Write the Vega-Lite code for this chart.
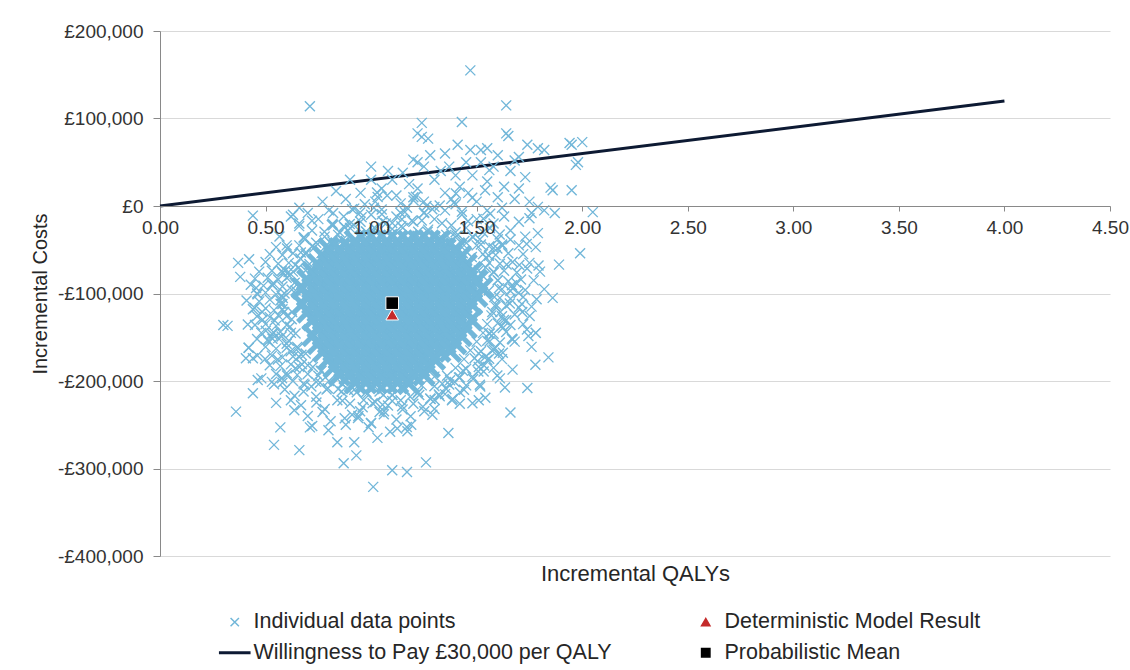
{
"$schema": "https://vega.github.io/schema/vega-lite/v6.json",
"width": 950,
"height": 525,
"autosize": "none",
"padding": {"left": 160, "top": 31, "right": 20, "bottom": 114},
"background": "white",
"config": {"font": "Liberation Sans", "view": {"stroke": null},
 "legend": {"orient": "none", "legendX": 64, "legendY": 580, "columns": 2, "columnPadding": 83, "rowPadding": 8, "labelFontSize": 21.5, "labelColor": "#262626", "labelLimit": 700, "symbolSize": 70, "labelOffset": 8}},
"datasets": {
"wtp": [{"q": 0, "c": 0}, {"q": 4, "c": 120000}],
"markers": [
{"q": 1.10, "c": -124000, "s": "Deterministic Model Result"},
{"q": 1.10, "c": -111000, "s": "Probabilistic Mean"}
],
"core": [
{"q":0.925,"c":-40000},{"q":0.975,"c":-40000},{"q":1.025,"c":-40000},{"q":1.075,"c":-40000},{"q":1.125,"c":-40000},{"q":1.175,"c":-40000},{"q":1.225,"c":-40000},{"q":1.275,"c":-40000},{"q":1.325,"c":-40000},
{"q":0.80,"c":-49000},{"q":0.85,"c":-49000},{"q":0.90,"c":-49000},{"q":0.95,"c":-49000},{"q":1.00,"c":-49000},{"q":1.05,"c":-49000},{"q":1.10,"c":-49000},{"q":1.15,"c":-49000},{"q":1.20,"c":-49000},{"q":1.25,"c":-49000},{"q":1.30,"c":-49000},{"q":1.35,"c":-49000},{"q":1.40,"c":-49000},
{"q":0.775,"c":-58000},{"q":0.825,"c":-58000},{"q":0.875,"c":-58000},{"q":0.925,"c":-58000},{"q":0.975,"c":-58000},{"q":1.025,"c":-58000},{"q":1.075,"c":-58000},{"q":1.125,"c":-58000},{"q":1.175,"c":-58000},{"q":1.225,"c":-58000},{"q":1.275,"c":-58000},{"q":1.325,"c":-58000},{"q":1.375,"c":-58000},{"q":1.425,"c":-58000},
{"q":0.75,"c":-67000},{"q":0.80,"c":-67000},{"q":0.85,"c":-67000},{"q":0.90,"c":-67000},{"q":0.95,"c":-67000},{"q":1.00,"c":-67000},{"q":1.05,"c":-67000},{"q":1.10,"c":-67000},{"q":1.15,"c":-67000},{"q":1.20,"c":-67000},{"q":1.25,"c":-67000},{"q":1.30,"c":-67000},{"q":1.35,"c":-67000},{"q":1.40,"c":-67000},{"q":1.45,"c":-67000},
{"q":0.725,"c":-76000},{"q":0.775,"c":-76000},{"q":0.825,"c":-76000},{"q":0.875,"c":-76000},{"q":0.925,"c":-76000},{"q":0.975,"c":-76000},{"q":1.025,"c":-76000},{"q":1.075,"c":-76000},{"q":1.125,"c":-76000},{"q":1.175,"c":-76000},{"q":1.225,"c":-76000},{"q":1.275,"c":-76000},{"q":1.325,"c":-76000},{"q":1.375,"c":-76000},{"q":1.425,"c":-76000},{"q":1.475,"c":-76000},
{"q":0.70,"c":-85000},{"q":0.75,"c":-85000},{"q":0.80,"c":-85000},{"q":0.85,"c":-85000},{"q":0.90,"c":-85000},{"q":0.95,"c":-85000},{"q":1.00,"c":-85000},{"q":1.05,"c":-85000},{"q":1.10,"c":-85000},{"q":1.15,"c":-85000},{"q":1.20,"c":-85000},{"q":1.25,"c":-85000},{"q":1.30,"c":-85000},{"q":1.35,"c":-85000},{"q":1.40,"c":-85000},{"q":1.45,"c":-85000},{"q":1.50,"c":-85000},
{"q":0.675,"c":-94000},{"q":0.725,"c":-94000},{"q":0.775,"c":-94000},{"q":0.825,"c":-94000},{"q":0.875,"c":-94000},{"q":0.925,"c":-94000},{"q":0.975,"c":-94000},{"q":1.025,"c":-94000},{"q":1.075,"c":-94000},{"q":1.125,"c":-94000},{"q":1.175,"c":-94000},{"q":1.225,"c":-94000},{"q":1.275,"c":-94000},{"q":1.325,"c":-94000},{"q":1.375,"c":-94000},{"q":1.425,"c":-94000},{"q":1.475,"c":-94000},{"q":1.525,"c":-94000},
{"q":0.70,"c":-103000},{"q":0.75,"c":-103000},{"q":0.80,"c":-103000},{"q":0.85,"c":-103000},{"q":0.90,"c":-103000},{"q":0.95,"c":-103000},{"q":1.00,"c":-103000},{"q":1.05,"c":-103000},{"q":1.10,"c":-103000},{"q":1.15,"c":-103000},{"q":1.20,"c":-103000},{"q":1.25,"c":-103000},{"q":1.30,"c":-103000},{"q":1.35,"c":-103000},{"q":1.40,"c":-103000},{"q":1.45,"c":-103000},{"q":1.50,"c":-103000},
{"q":0.675,"c":-112000},{"q":0.725,"c":-112000},{"q":0.775,"c":-112000},{"q":0.825,"c":-112000},{"q":0.875,"c":-112000},{"q":0.925,"c":-112000},{"q":0.975,"c":-112000},{"q":1.025,"c":-112000},{"q":1.075,"c":-112000},{"q":1.125,"c":-112000},{"q":1.175,"c":-112000},{"q":1.225,"c":-112000},{"q":1.275,"c":-112000},{"q":1.325,"c":-112000},{"q":1.375,"c":-112000},{"q":1.425,"c":-112000},{"q":1.475,"c":-112000},
{"q":0.70,"c":-121000},{"q":0.75,"c":-121000},{"q":0.80,"c":-121000},{"q":0.85,"c":-121000},{"q":0.90,"c":-121000},{"q":0.95,"c":-121000},{"q":1.00,"c":-121000},{"q":1.05,"c":-121000},{"q":1.10,"c":-121000},{"q":1.15,"c":-121000},{"q":1.20,"c":-121000},{"q":1.25,"c":-121000},{"q":1.30,"c":-121000},{"q":1.35,"c":-121000},{"q":1.40,"c":-121000},{"q":1.45,"c":-121000},
{"q":0.725,"c":-130000},{"q":0.775,"c":-130000},{"q":0.825,"c":-130000},{"q":0.875,"c":-130000},{"q":0.925,"c":-130000},{"q":0.975,"c":-130000},{"q":1.025,"c":-130000},{"q":1.075,"c":-130000},{"q":1.125,"c":-130000},{"q":1.175,"c":-130000},{"q":1.225,"c":-130000},{"q":1.275,"c":-130000},{"q":1.325,"c":-130000},{"q":1.375,"c":-130000},{"q":1.425,"c":-130000},{"q":1.475,"c":-130000},
{"q":0.75,"c":-139000},{"q":0.80,"c":-139000},{"q":0.85,"c":-139000},{"q":0.90,"c":-139000},{"q":0.95,"c":-139000},{"q":1.00,"c":-139000},{"q":1.05,"c":-139000},{"q":1.10,"c":-139000},{"q":1.15,"c":-139000},{"q":1.20,"c":-139000},{"q":1.25,"c":-139000},{"q":1.30,"c":-139000},{"q":1.35,"c":-139000},{"q":1.40,"c":-139000},{"q":1.45,"c":-139000},
{"q":0.725,"c":-148000},{"q":0.775,"c":-148000},{"q":0.825,"c":-148000},{"q":0.875,"c":-148000},{"q":0.925,"c":-148000},{"q":0.975,"c":-148000},{"q":1.025,"c":-148000},{"q":1.075,"c":-148000},{"q":1.125,"c":-148000},{"q":1.175,"c":-148000},{"q":1.225,"c":-148000},{"q":1.275,"c":-148000},{"q":1.325,"c":-148000},{"q":1.375,"c":-148000},{"q":1.425,"c":-148000},
{"q":0.75,"c":-157000},{"q":0.80,"c":-157000},{"q":0.85,"c":-157000},{"q":0.90,"c":-157000},{"q":0.95,"c":-157000},{"q":1.00,"c":-157000},{"q":1.05,"c":-157000},{"q":1.10,"c":-157000},{"q":1.15,"c":-157000},{"q":1.20,"c":-157000},{"q":1.25,"c":-157000},{"q":1.30,"c":-157000},{"q":1.35,"c":-157000},{"q":1.40,"c":-157000},
{"q":0.775,"c":-166000},{"q":0.825,"c":-166000},{"q":0.875,"c":-166000},{"q":0.925,"c":-166000},{"q":0.975,"c":-166000},{"q":1.025,"c":-166000},{"q":1.075,"c":-166000},{"q":1.125,"c":-166000},{"q":1.175,"c":-166000},{"q":1.225,"c":-166000},{"q":1.275,"c":-166000},{"q":1.325,"c":-166000},{"q":1.375,"c":-166000},
{"q":0.80,"c":-175000},{"q":0.85,"c":-175000},{"q":0.90,"c":-175000},{"q":0.95,"c":-175000},{"q":1.00,"c":-175000},{"q":1.05,"c":-175000},{"q":1.10,"c":-175000},{"q":1.15,"c":-175000},{"q":1.20,"c":-175000},{"q":1.25,"c":-175000},{"q":1.30,"c":-175000},
{"q":0.825,"c":-184000},{"q":0.875,"c":-184000},{"q":0.925,"c":-184000},{"q":0.975,"c":-184000},{"q":1.025,"c":-184000},{"q":1.075,"c":-184000},{"q":1.125,"c":-184000},{"q":1.175,"c":-184000},{"q":1.225,"c":-184000},{"q":1.275,"c":-184000},
{"q":0.85,"c":-193000},{"q":0.90,"c":-193000},{"q":0.95,"c":-193000},{"q":1.00,"c":-193000},{"q":1.05,"c":-193000},{"q":1.10,"c":-193000},{"q":1.15,"c":-193000},{"q":1.20,"c":-193000},{"q":1.25,"c":-193000},
{"q":0.925,"c":-202000},{"q":0.975,"c":-202000},{"q":1.025,"c":-202000},{"q":1.075,"c":-202000},{"q":1.125,"c":-202000},{"q":1.175,"c":-202000}
],
"fringe": [
{"q":1.591,"c":-112550},{"q":1.605,"c":-94100},{"q":1.533,"c":-80800},{"q":1.544,"c":-59000},{"q":1.449,"c":-51600},{"q":1.400,"c":-35800},{"q":1.302,"c":-34700},{"q":1.240,"c":-16600},{"q":1.143,"c":-23200},{"q":1.055,"c":-17300},{"q":0.976,"c":-29000},{"q":0.871,"c":-23100},{"q":0.817,"c":-40600},{"q":0.731,"c":-47400},{"q":0.708,"c":-66400},{"q":0.609,"c":-75400},{"q":0.624,"c":-95600},{"q":0.580,"c":-112000},{"q":0.624,"c":-129400},{"q":0.576,"c":-149100},{"q":0.653,"c":-162700},{"q":0.672,"c":-180900},{"q":0.762,"c":-188500},{"q":0.789,"c":-209700},{"q":0.891,"c":-210200},{"q":0.965,"c":-221800},{"q":1.058,"c":-216100},{"q":1.147,"c":-228800},{"q":1.228,"c":-216100},{"q":1.321,"c":-215500},{"q":1.374,"c":-199200},{"q":1.483,"c":-197600},{"q":1.504,"c":-177500},{"q":1.573,"c":-165200},{"q":1.562,"c":-145800},{"q":1.640,"c":-130500},
{"q":1.687,"c":-87600},{"q":1.642,"c":-66900},{"q":1.660,"c":-38400},{"q":1.563,"c":-25400},{"q":1.459,"c":-17500},{"q":1.392,"c":3700},{"q":1.262,"c":100},{"q":1.139,"c":-7600},{"q":1.013,"c":-1900},{"q":0.899,"c":-20500},{"q":0.804,"c":-41100},{"q":0.667,"c":-53100},{"q":0.613,"c":-79700},{"q":0.582,"c":-105100},{"q":0.486,"c":-130100},{"q":0.513,"c":-154600},{"q":0.558,"c":-175300},{"q":0.540,"c":-203800},{"q":0.637,"c":-216800},{"q":0.741,"c":-224700},{"q":0.808,"c":-245900},{"q":0.938,"c":-242300},{"q":1.061,"c":-234600},{"q":1.187,"c":-240300},{"q":1.301,"c":-221700},{"q":1.396,"c":-201100},{"q":1.533,"c":-189200},{"q":1.587,"c":-162500},{"q":1.618,"c":-137100},{"q":1.714,"c":-112100},
{"q":1.739,"c":-71400},{"q":1.737,"c":-43300},{"q":1.609,"c":-32600},{"q":1.564,"c":-8900},{"q":1.479,"c":9300},{"q":1.325,"c":500},{"q":1.212,"c":10600},{"q":1.076,"c":12000},{"q":0.955,"c":-12900},{"q":0.817,"c":-20200},{"q":0.683,"c":-36000},{"q":0.641,"c":-67500},{"q":0.530,"c":-89600},{"q":0.449,"c":-116600},{"q":0.501,"c":-142700},{"q":0.461,"c":-170800},{"q":0.463,"c":-198900},{"q":0.591,"c":-209700},{"q":0.636,"c":-233300},{"q":0.721,"c":-251500},{"q":0.875,"c":-242700},{"q":0.988,"c":-252800},{"q":1.124,"c":-254200},{"q":1.245,"c":-229300},{"q":1.383,"c":-222000},{"q":1.517,"c":-206200},{"q":1.559,"c":-174700},{"q":1.670,"c":-152600},{"q":1.751,"c":-125600},{"q":1.699,"c":-99500},
{"q":1.574,"c":-121100},{"q":1.558,"c":-96500},{"q":1.510,"c":-73700},{"q":1.435,"c":-54000},{"q":1.337,"c":-39000},{"q":1.223,"c":-29500},{"q":1.10,"c":-26200},{"q":0.977,"c":-29500},{"q":0.863,"c":-39000},{"q":0.765,"c":-54000},{"q":0.690,"c":-73700},{"q":0.642,"c":-96500},{"q":0.626,"c":-121100},{"q":0.642,"c":-145700},{"q":0.690,"c":-168500},{"q":0.765,"c":-188200},{"q":0.863,"c":-203200},{"q":0.977,"c":-212700},{"q":1.10,"c":-216000},{"q":1.223,"c":-212700},{"q":1.337,"c":-203200},{"q":1.435,"c":-188200},{"q":1.510,"c":-168500},{"q":1.558,"c":-145700},
{"q":1.612,"c":-121100},{"q":1.584,"c":-104100},{"q":1.600,"c":-84900},{"q":1.543,"c":-70250},{"q":1.477,"c":-58300},{"q":1.442,"c":-40100},{"q":1.356,"c":-33000},{"q":1.268,"c":-29300},{"q":1.193,"c":-16900},{"q":1.10,"c":-19400},{"q":1.015,"c":-24900},{"q":0.918,"c":-21700},{"q":0.844,"c":-33000},{"q":0.784,"c":-46300},{"q":0.692,"c":-53100},{"q":0.657,"c":-70250},{"q":0.638,"c":-87700},{"q":0.576,"c":-102700},{"q":0.588,"c":-121100},{"q":0.616,"c":-138100},{"q":0.600,"c":-157300},{"q":0.657,"c":-171950},{"q":0.724,"c":-183900},{"q":0.758,"c":-202100},{"q":0.844,"c":-209200},{"q":0.932,"c":-212900},{"q":1.007,"c":-225300},{"q":1.10,"c":-222800},{"q":1.185,"c":-218000},{"q":1.282,"c":-220500},{"q":1.356,"c":-209200},{"q":1.416,"c":-195900},{"q":1.508,"c":-189100},{"q":1.543,"c":-171950},{"q":1.562,"c":-154500},{"q":1.624,"c":-139500},
{"q":1.657,"c":-111400},{"q":1.667,"c":-90600},{"q":1.581,"c":-76100},{"q":1.558,"c":-56800},{"q":1.515,"c":-38000},{"q":1.405,"c":-34000},{"q":1.336,"c":-19600},{"q":1.252,"c":-7500},{"q":1.146,"c":-15100},{"q":1.051,"c":-9550},{"q":0.948,"c":-7500},{"q":0.875,"c":-24700},{"q":0.779,"c":-29400},{"q":0.685,"c":-38000},{"q":0.665,"c":-60000},{"q":0.594,"c":-73700},{"q":0.533,"c":-90600},{"q":0.571,"c":-111800},{"q":0.543,"c":-130800},{"q":0.533,"c":-151600},{"q":0.619,"c":-166100},{"q":0.642,"c":-185400},{"q":0.685,"c":-204200},{"q":0.795,"c":-208200},{"q":0.864,"c":-222600},{"q":0.948,"c":-234700},{"q":1.054,"c":-227100},{"q":1.149,"c":-232700},{"q":1.252,"c":-234700},{"q":1.325,"c":-217500},{"q":1.421,"c":-212800},{"q":1.515,"c":-204200},{"q":1.535,"c":-182200},{"q":1.606,"c":-168500},{"q":1.667,"c":-151600},{"q":1.629,"c":-130400},
{"q":1.716,"c":-121100},{"q":1.660,"c":-97200},{"q":1.702,"c":-67400},{"q":1.598,"c":-48500},{"q":1.483,"c":-35800},{"q":1.430,"c":-6700},{"q":1.290,"c":-3700},{"q":1.160,"c":-6900},{"q":1.031,"c":10300},{"q":0.910,"c":-3700},{"q":0.814,"c":-21700},{"q":0.659,"c":-23000},{"q":0.602,"c":-48500},{"q":0.576,"c":-74400},{"q":0.455,"c":-93600},{"q":0.484,"c":-121100},{"q":0.540,"c":-145000},{"q":0.498,"c":-174800},{"q":0.602,"c":-193700},{"q":0.717,"c":-206400},{"q":0.770,"c":-235400},{"q":0.910,"c":-238500},{"q":1.040,"c":-235300},{"q":1.169,"c":-252500},{"q":1.290,"c":-238500},{"q":1.386,"c":-220500},{"q":1.541,"c":-219200},{"q":1.598,"c":-193700},{"q":1.624,"c":-167800},{"q":1.745,"c":-148600},
{"q":1.784,"c":-106700},{"q":1.793,"c":-68100},{"q":1.622,"c":-45300},{"q":1.532,"c":-14600},{"q":1.402,"c":14200},{"q":1.201,"c":6200},{"q":1.028,"c":15300},{"q":0.834,"c":17200},{"q":0.720,"c":-16800},{"q":0.566,"c":-34900},{"q":0.422,"c":-60800},{"q":0.462,"c":-101000},{"q":0.416,"c":-135500},{"q":0.407,"c":-174100},{"q":0.578,"c":-196900},{"q":0.668,"c":-227600},{"q":0.798,"c":-256400},{"q":0.999,"c":-248400},{"q":1.172,"c":-257500},{"q":1.366,"c":-259400},{"q":1.480,"c":-225400},{"q":1.634,"c":-207300},{"q":1.778,"c":-181300},{"q":1.738,"c":-141200},
{"q":0.71,"c":114000},{"q":1.47,"c":155000},{"q":1.64,"c":115000},{"q":1.24,"c":95000},{"q":1.43,"c":96000},{"q":1.64,"c":83000},{"q":1.65,"c":80000},{"q":1.24,"c":79000},{"q":1.27,"c":77000},{"q":1.41,"c":70000},{"q":1.55,"c":66000},{"q":1.52,"c":64000},{"q":1.47,"c":64000},{"q":1.74,"c":70000},{"q":1.82,"c":64000},{"q":1.95,"c":70000},{"q":2.00,"c":73000},{"q":1.94,"c":72000},{"q":1.79,"c":66000},{"q":1.97,"c":47000},{"q":1.98,"c":50000},{"q":1.86,"c":18000},{"q":1.95,"c":18000},{"q":1.85,"c":21000},{"q":2.05,"c":-7000},{"q":1.99,"c":-54000},{"q":1.89,"c":-67000},{"q":1.79,"c":-31000},{"q":1.75,"c":-14000},{"q":1.82,"c":-5000},{"q":1.87,"c":-8000},{"q":1.79,"c":-1000},{"q":1.73,"c":33000},{"q":1.70,"c":56000},{"q":1.63,"c":22000},{"q":1.56,"c":41000},{"q":1.22,"c":50000},{"q":1.25,"c":45000},{"q":1.37,"c":45000},{"q":1.20,"c":53000},{"q":1.22,"c":83000},{"q":1.00,"c":45000},{"q":0.90,"c":30000},{"q":1.00,"c":30000},{"q":0.77,"c":5000},{"q":0.44,"c":-11000},{"q":0.63,"c":-10000},{"q":0.66,"c":-2000},{"q":0.82,"c":-8000},
{"q":1.05,"c":20000},{"q":1.12,"c":12000},{"q":1.18,"c":25000},{"q":1.30,"c":30000},{"q":1.35,"c":15000},{"q":1.42,"c":22000},{"q":1.48,"c":35000},{"q":1.55,"c":28000},{"q":1.60,"c":10000},{"q":1.66,"c":40000},{"q":1.70,"c":20000},{"q":1.58,"c":45000},{"q":1.45,"c":50000},{"q":1.33,"c":40000},{"q":1.15,"c":38000},{"q":0.95,"c":15000},{"q":0.88,"c":8000},{"q":1.02,"c":5000},{"q":1.25,"c":5000},{"q":1.50,"c":5000},{"q":1.40,"c":2000},{"q":1.62,"c":-2000},{"q":1.75,"c":5000},{"q":1.68,"c":52000},{"q":1.60,"c":58000},{"q":1.35,"c":60000},{"q":1.28,"c":58000},{"q":1.52,"c":50000},{"q":1.10,"c":30000},{"q":1.22,"c":20000},{"q":1.38,"c":8000},{"q":1.46,"c":15000},{"q":1.14,"c":3000},{"q":0.97,"c":2000},{"q":1.30,"c":-1000},{"q":1.54,"c":18000},{"q":1.68,"c":8000},{"q":1.20,"c":10000},{"q":1.08,"c":40000},{"q":1.40,"c":35000},
{"q":0.62,"c":-12000},{"q":0.66,"c":-20000},{"q":0.70,"c":-8000},{"q":0.72,"c":-28000},{"q":0.75,"c":-15000},{"q":0.78,"c":-35000},{"q":0.80,"c":-5000},{"q":0.82,"c":-22000},{"q":0.85,"c":-30000},{"q":0.87,"c":-12000},{"q":0.90,"c":-25000},{"q":0.92,"c":-3000},{"q":0.95,"c":-18000},{"q":0.97,"c":-33000},{"q":1.00,"c":-10000},{"q":1.02,"c":-26000},{"q":1.05,"c":-4000},{"q":1.07,"c":-20000},{"q":1.10,"c":-32000},{"q":1.12,"c":-12000},{"q":1.15,"c":-25000},{"q":1.17,"c":-2000},{"q":1.20,"c":-18000},{"q":1.22,"c":-34000},{"q":1.25,"c":-8000},{"q":1.27,"c":-27000},{"q":1.30,"c":-15000},{"q":1.33,"c":-35000},{"q":1.35,"c":-5000},{"q":1.38,"c":-22000},{"q":1.40,"c":-30000},{"q":1.43,"c":-10000},{"q":1.45,"c":-25000},{"q":1.48,"c":-35000},{"q":1.50,"c":-15000},{"q":1.53,"c":-30000},{"q":1.55,"c":-5000},{"q":1.58,"c":-20000},{"q":1.60,"c":-38000},{"q":1.63,"c":-12000},{"q":1.66,"c":-28000},{"q":1.70,"c":-18000},{"q":1.73,"c":-35000},{"q":1.76,"c":-8000},{"q":0.68,"c":-36000},{"q":0.74,"c":-42000},{"q":0.88,"c":-40000},{"q":1.36,"c":-42000},{"q":1.44,"c":-45000},{"q":1.52,"c":-44000},{"q":1.58,"c":-48000},
{"q":0.60,"c":-45000},{"q":0.66,"c":-45000},{"q":0.72,"c":-46000},{"q":0.55,"c":-47000},
{"q":0.52,"c":-55000},{"q":0.58,"c":-56000},{"q":0.63,"c":-54000},{"q":0.69,"c":-55000},
{"q":0.37,"c":-65000},{"q":0.50,"c":-64000},{"q":0.56,"c":-66000},{"q":0.61,"c":-65000},
{"q":0.47,"c":-75000},{"q":0.53,"c":-74000},{"q":0.58,"c":-76000},{"q":0.63,"c":-75000},
{"q":0.38,"c":-81000},{"q":0.45,"c":-83000},{"q":0.51,"c":-82000},{"q":0.56,"c":-84000},{"q":0.60,"c":-82000},
{"q":0.43,"c":-90000},{"q":0.49,"c":-91000},{"q":0.54,"c":-89000},{"q":0.58,"c":-92000},
{"q":0.46,"c":-100000},{"q":0.50,"c":-99000},{"q":0.55,"c":-101000},{"q":0.59,"c":-100000},
{"q":0.41,"c":-108000},{"q":0.47,"c":-109000},{"q":0.52,"c":-107000},{"q":0.57,"c":-108000},
{"q":0.44,"c":-118000},{"q":0.50,"c":-117000},{"q":0.54,"c":-119000},{"q":0.58,"c":-118000},
{"q":0.46,"c":-126000},{"q":0.52,"c":-127000},{"q":0.56,"c":-125000},{"q":0.60,"c":-126000},
{"q":0.30,"c":-136000},{"q":0.32,"c":-137000},{"q":0.45,"c":-136000},{"q":0.50,"c":-135000},{"q":0.55,"c":-137000},{"q":0.60,"c":-136000},
{"q":0.48,"c":-145000},{"q":0.53,"c":-146000},{"q":0.57,"c":-144000},{"q":0.62,"c":-145000},
{"q":0.46,"c":-152000},{"q":0.51,"c":-153000},{"q":0.56,"c":-151000},{"q":0.61,"c":-154000},
{"q":0.42,"c":-162000},{"q":0.50,"c":-161000},{"q":0.55,"c":-163000},{"q":0.60,"c":-162000},{"q":0.65,"c":-161000},
{"q":0.44,"c":-174000},{"q":0.53,"c":-171000},{"q":0.58,"c":-173000},{"q":0.63,"c":-172000},{"q":0.67,"c":-170000},
{"q":0.52,"c":-182000},{"q":0.57,"c":-183000},{"q":0.62,"c":-181000},{"q":0.66,"c":-184000},{"q":0.70,"c":-182000},
{"q":0.48,"c":-197000},{"q":0.55,"c":-192000},{"q":0.60,"c":-191000},{"q":0.65,"c":-193000},{"q":0.70,"c":-192000},{"q":0.75,"c":-194000},
{"q":0.53,"c":-201000},{"q":0.58,"c":-202000},{"q":0.63,"c":-200000},{"q":0.68,"c":-203000},{"q":0.74,"c":-201000},{"q":0.80,"c":-200000},
{"q":1.50,"c":-45000},{"q":1.56,"c":-46000},{"q":1.62,"c":-44000},{"q":1.70,"c":-45000},{"q":1.78,"c":-47000},
{"q":1.53,"c":-55000},{"q":1.59,"c":-56000},{"q":1.65,"c":-54000},{"q":1.72,"c":-55000},
{"q":1.56,"c":-65000},{"q":1.61,"c":-66000},{"q":1.67,"c":-64000},{"q":1.75,"c":-65000},
{"q":1.58,"c":-75000},{"q":1.63,"c":-74000},{"q":1.69,"c":-76000},{"q":1.80,"c":-75000},
{"q":1.60,"c":-85000},{"q":1.65,"c":-86000},{"q":1.71,"c":-84000},{"q":1.77,"c":-85000},
{"q":1.62,"c":-95000},{"q":1.67,"c":-94000},{"q":1.73,"c":-96000},{"q":1.82,"c":-95000},
{"q":1.61,"c":-105000},{"q":1.66,"c":-106000},{"q":1.72,"c":-104000},{"q":1.86,"c":-105000},
{"q":1.59,"c":-115000},{"q":1.64,"c":-114000},{"q":1.70,"c":-116000},{"q":1.76,"c":-115000},
{"q":1.57,"c":-125000},{"q":1.62,"c":-126000},{"q":1.68,"c":-124000},
{"q":1.55,"c":-135000},{"q":1.60,"c":-134000},{"q":1.66,"c":-136000},{"q":1.72,"c":-135000},
{"q":1.53,"c":-145000},{"q":1.58,"c":-146000},{"q":1.64,"c":-144000},{"q":1.78,"c":-145000},
{"q":1.50,"c":-155000},{"q":1.55,"c":-154000},{"q":1.61,"c":-156000},{"q":1.68,"c":-155000},
{"q":1.47,"c":-165000},{"q":1.52,"c":-166000},{"q":1.58,"c":-164000},{"q":1.76,"c":-161000},
{"q":1.44,"c":-175000},{"q":1.49,"c":-174000},{"q":1.55,"c":-176000},{"q":1.62,"c":-175000},{"q":1.84,"c":-173000},
{"q":1.40,"c":-185000},{"q":1.45,"c":-186000},{"q":1.51,"c":-184000},{"q":1.58,"c":-185000},{"q":1.67,"c":-187000},
{"q":1.30,"c":-195000},{"q":1.36,"c":-194000},{"q":1.42,"c":-196000},{"q":1.48,"c":-195000},{"q":1.61,"c":-197000},
{"q":1.24,"c":-205000},{"q":1.30,"c":-206000},{"q":1.37,"c":-204000},{"q":1.45,"c":-205000},{"q":1.74,"c":-208000},
{"q":0.86,"c":-212000},{"q":0.92,"c":-210000},{"q":0.98,"c":-215000},{"q":1.04,"c":-212000},{"q":1.10,"c":-216000},{"q":1.16,"c":-210000},{"q":1.22,"c":-214000},{"q":0.84,"c":-222000},{"q":0.90,"c":-226000},{"q":0.96,"c":-230000},{"q":1.02,"c":-224000},{"q":1.08,"c":-228000},{"q":1.14,"c":-222000},{"q":1.20,"c":-226000},{"q":1.28,"c":-220000},{"q":1.35,"c":-215000},{"q":0.74,"c":-218000},{"q":0.68,"c":-212000},{"q":0.78,"c":-232000},{"q":0.94,"c":-240000},{"q":1.06,"c":-238000},{"q":1.12,"c":-244000},{"q":1.00,"c":-248000},{"q":1.19,"c":-250000},{"q":1.09,"c":-258000},{"q":1.03,"c":-265000},{"q":1.51,"c":-222000},{"q":1.42,"c":-226000},{"q":1.30,"c":-232000},{"q":0.62,"c":-222000},{"q":0.70,"c":-240000},{"q":0.88,"c":-250000},
{"q":0.42,"c":-162000},{"q":0.36,"c":-235000},{"q":0.57,"c":-253000},{"q":0.54,"c":-273000},{"q":0.66,"c":-279000},{"q":0.71,"c":-253000},{"q":0.84,"c":-270000},{"q":0.87,"c":-294000},{"q":0.93,"c":-285000},{"q":0.92,"c":-270000},{"q":1.01,"c":-321000},{"q":1.10,"c":-302000},{"q":1.17,"c":-304000},{"q":1.26,"c":-293000},{"q":1.66,"c":-236000},{"q":1.78,"c":-145000},{"q":1.44,"c":-210000},{"q":0.55,"c":-225000},{"q":0.44,"c":-214000}
]
},
"encoding": {
"x": {"field": "q", "type": "quantitative",
 "scale": {"domain": [0, 4.5], "nice": false, "zero": false},
 "axis": {"values": [0, 0.5, 1, 1.5, 2, 2.5, 3, 3.5, 4, 4.5], "format": ".2f", "offset": -350, "grid": false, "zindex": 1,
  "tickSize": 5, "labelPadding": 7, "labelFontSize": 19, "labelColor": "#333333", "labelFlush": false, "labelOverlap": false,
  "domainColor": "#898989", "tickColor": "#898989",
  "title": "Incremental QALYs", "titleFontSize": 22, "titleFontWeight": "normal", "titleColor": "#262626", "titleY": 367, "titleBaseline": "middle"}},
"y": {"field": "c", "type": "quantitative",
 "scale": {"domain": [-400000, 200000], "nice": false},
 "axis": {"values": [-400000, -300000, -200000, -100000, 0, 100000, 200000],
  "labelExpr": "datum.value < 0 ? '-£' + format(-datum.value, ',') : '£' + format(datum.value, ',')",
  "grid": true, "gridColor": "#d9d9d9", "tickSize": 7, "labelPadding": 10, "labelFontSize": 19, "labelColor": "#333333",
  "domainColor": "#898989", "tickColor": "#898989",
  "title": "Incremental Costs", "titleFontSize": 20, "titleFontWeight": "normal", "titleColor": "#262626", "titlePadding": 7}}
},
"layer": [
{"data": {"name": "wtp"}, "mark": {"type": "line", "color": "#0d1a33", "strokeWidth": 3}, "encoding": {}},
{"data": {"name": "core"}, "mark": {"type": "point", "filled": false, "size": 400, "strokeWidth": 5, "opacity": 1},
 "encoding": {
  "color": {"datum": "Individual data points", "type": "nominal",
   "scale": {"domain": ["Individual data points", "Willingness to Pay £30,000 per QALY", "Deterministic Model Result", "Probabilistic Mean"], "range": ["#72b7d9", "#0d1a33", "#c42a2a", "#000000"]},
   "legend": {"title": null, "encode": {"symbols": {"update": {"fill": {"scale": "color", "field": "value"}, "stroke": {"scale": "color", "field": "value"}, "strokeWidth": {"value": 1.5}, "opacity": {"value": 1}}}}}},
  "shape": {"datum": "Individual data points", "type": "nominal",
   "scale": {"domain": ["Individual data points", "Willingness to Pay £30,000 per QALY", "Deterministic Model Result", "Probabilistic Mean"], "range": ["M-1,-1L1,1M-1,1L1,-1", "M-3.6,-0.18L3.6,-0.18L3.6,0.18L-3.6,0.18Z", "triangle-up", "square"]},
   "legend": {"title": null, "encode": {"symbols": {"update": {"fill": {"scale": "color", "field": "value"}, "stroke": {"scale": "color", "field": "value"}, "strokeWidth": {"value": 1.5}, "opacity": {"value": 1}}}}}}
 }},
{"data": {"name": "fringe"}, "mark": {"type": "point", "filled": false, "size": 100, "strokeWidth": 1.4, "opacity": 1},
 "encoding": {
  "color": {"datum": "Individual data points", "type": "nominal", "legend": {"title": null, "encode": {"symbols": {"update": {"fill": {"scale": "color", "field": "value"}, "stroke": {"scale": "color", "field": "value"}, "strokeWidth": {"value": 1.5}, "opacity": {"value": 1}}}}}},
  "shape": {"datum": "Individual data points", "type": "nominal", "legend": {"title": null, "encode": {"symbols": {"update": {"fill": {"scale": "color", "field": "value"}, "stroke": {"scale": "color", "field": "value"}, "strokeWidth": {"value": 1.5}, "opacity": {"value": 1}}}}}}
 }},
{"data": {"name": "markers"}, "mark": {"type": "point", "filled": true, "stroke": "white", "strokeWidth": 1, "opacity": 1, "size": 160},
 "encoding": {
  "color": {"field": "s", "type": "nominal", "legend": {"title": null, "encode": {"symbols": {"update": {"fill": {"scale": "color", "field": "value"}, "stroke": {"scale": "color", "field": "value"}, "strokeWidth": {"value": 1.5}, "opacity": {"value": 1}}}}}},
  "shape": {"field": "s", "type": "nominal", "legend": {"title": null, "encode": {"symbols": {"update": {"fill": {"scale": "color", "field": "value"}, "stroke": {"scale": "color", "field": "value"}, "strokeWidth": {"value": 1.5}, "opacity": {"value": 1}}}}}}
 }}
]
}
